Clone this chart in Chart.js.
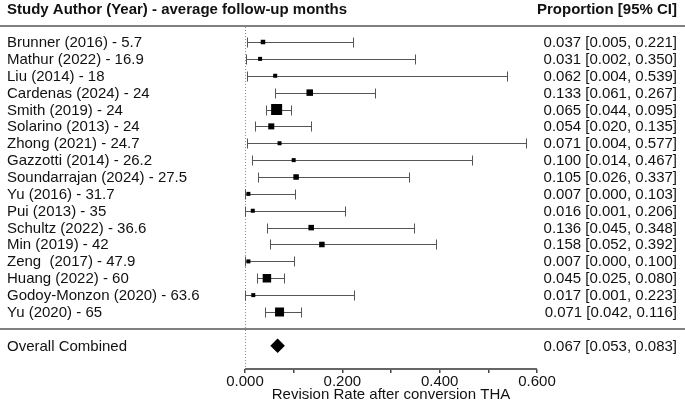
<!DOCTYPE html>
<html lang="en">
<head>
<meta charset="UTF-8">
<title>Revision rate forest plot</title>
<script src="https://cdn.jsdelivr.net/npm/chart.js@4.4.0/dist/chart.umd.min.js"></script>
<style>
  html, body { margin: 0; padding: 0; background: #fff; }
</style>
</head>
<body>
<canvas id="chart" width="685" height="402"></canvas>

<script>
    const studies = [
        'Brunner (2016) - 5.7', 'Mathur (2022) - 16.9', 'Liu (2014) - 18', 'Cardenas (2024) - 24',
        'Smith (2019) - 24', 'Solarino (2013) - 24', 'Zhong (2021) - 24.7', 'Gazzotti (2014) - 26.2',
        'Soundarrajan (2024) - 27.5', 'Yu (2016) - 31.7', 'Pui (2013) - 35', 'Schultz (2022) - 36.6',
        'Min (2019) - 42', 'Zeng  (2017) - 47.9', 'Huang (2022) - 60', 'Godoy-Monzon (2020) - 63.6',
        'Yu (2020) - 65'
    ];
    const props = [0.037, 0.031, 0.062, 0.133, 0.065, 0.054, 0.071, 0.100, 0.105, 0.007, 0.016, 0.136, 0.158, 0.007, 0.045, 0.017, 0.071];
    const lower = [0.005, 0.002, 0.004, 0.061, 0.044, 0.020, 0.004, 0.014, 0.026, 0.000, 0.001, 0.045, 0.052, 0.000, 0.025, 0.001, 0.042];
    const upper = [0.221, 0.350, 0.539, 0.267, 0.095, 0.135, 0.577, 0.467, 0.337, 0.103, 0.206, 0.348, 0.392, 0.100, 0.080, 0.223, 0.116];
    // relative study weights (%)
    const weights = [3.4, 2.7, 2.7, 7.1, 20.4, 6.1, 2.7, 2.7, 5.1, 2.7, 2.7, 5.1, 5.1, 2.7, 12.1, 2.7, 13.6];

    const overallLabel = 'Overall Combined';
    const overall = 0.067, overallLo = 0.053, overallHi = 0.083;
    const xTicks = [0, 0.2, 0.4, 0.6];

    const FONT = "'Liberation Sans', Arial, sans-serif";
    const OVERALL_ROW = studies.length + 1;

    function ciText(p, lo, hi) {
        return p.toFixed(3) + ' [' + lo.toFixed(3) + ', ' + hi.toFixed(3) + ']';
    }

    const forestPlugin = {
        id: 'forest',
        beforeDatasetsDraw(chart) {
            const ctx = chart.ctx, xs = chart.scales.x, ys = chart.scales.y, area = chart.chartArea;
            ctx.save();
            // null line
            const x0 = Math.round(xs.getPixelForValue(0)) + 0.5;
            ctx.strokeStyle = '#8a8a8a';
            ctx.lineWidth = 1;
            ctx.setLineDash([1, 2]);
            ctx.beginPath();
            ctx.moveTo(x0, area.top);
            ctx.lineTo(x0, area.bottom);
            ctx.stroke();
            ctx.setLineDash([]);

            // confidence intervals
            ctx.strokeStyle = '#555';
            studies.forEach((s, i) => {
                const y = Math.round(ys.getPixelForValue(i)) + 0.5;
                const a = Math.round(xs.getPixelForValue(lower[i])) + 0.5;
                const b = Math.round(xs.getPixelForValue(upper[i])) + 0.5;
                ctx.beginPath();
                ctx.moveTo(a, y); ctx.lineTo(b, y);
                ctx.moveTo(a, y - 5); ctx.lineTo(a, y + 5);
                ctx.moveTo(b, y - 5); ctx.lineTo(b, y + 5);
                ctx.stroke();
            });

            // header and summary rules
            ctx.strokeStyle = '#808080';
            ctx.lineWidth = 2;
            [-0.95, studies.length].forEach(v => {
                const y = Math.round(ys.getPixelForValue(v));
                ctx.beginPath();
                ctx.moveTo(0, y);
                ctx.lineTo(chart.width, y);
                ctx.stroke();
            });
            ctx.restore();
        },
        afterDraw(chart) {
            const ctx = chart.ctx, xs = chart.scales.x, ys = chart.scales.y;
            const right = chart.width - 8;
            ctx.save();

            // x axis baseline
            ctx.strokeStyle = '#666';
            ctx.lineWidth = 2;
            ctx.beginPath();
            ctx.moveTo(xs.left, xs.top);
            ctx.lineTo(xs.right, xs.top);
            ctx.stroke();

            ctx.fillStyle = '#111';
            ctx.textBaseline = 'alphabetic';

            ctx.font = 'bold 15px ' + FONT;
            ctx.textAlign = 'left';
            ctx.fillText('Study Author (Year) - average follow-up months', 7, 14);
            ctx.textAlign = 'right';
            ctx.fillText('Proportion [95% CI]', right, 14);

            ctx.font = '15px ' + FONT;
            studies.forEach((s, i) => {
                const y = ys.getPixelForValue(i) + 5;
                ctx.textAlign = 'left';
                ctx.fillText(s, 7, y);
                ctx.textAlign = 'right';
                ctx.fillText(ciText(props[i], lower[i], upper[i]), right, y);
            });
            const yo = ys.getPixelForValue(OVERALL_ROW) + 5;
            ctx.textAlign = 'left';
            ctx.fillText(overallLabel, 7, yo);
            ctx.textAlign = 'right';
            ctx.fillText(ciText(overall, overallLo, overallHi), right, yo);
            ctx.restore();
        }
    };

    const ctx = document.getElementById('chart').getContext('2d');
    const chart = new Chart(ctx, {
        type: 'scatter',
        data: {
            datasets: [{
                label: 'Studies',
                data: props.map((p, i) => ({ x: p, y: i })),
                pointStyle: 'rect',
                pointRadius: weights.map(w => Math.sqrt(w) * 2.44 * Math.SQRT1_2),
                backgroundColor: '#000',
                borderWidth: 0
            }, {
                label: 'Overall',
                data: [{ x: overall, y: OVERALL_ROW }],
                pointStyle: 'rectRot',
                pointRadius: c => {
                    const xs = c.chart.scales.x;
                    return xs ? (xs.getPixelForValue(overallHi) - xs.getPixelForValue(overallLo)) / 2 : 7;
                },
                backgroundColor: '#000',
                borderWidth: 0
            }]
        },
        options: {
            responsive: false,
            animation: false,
            events: [],
            layout: { padding: { left: 245, right: 148, top: 27, bottom: 0 } },
            plugins: { legend: { display: false }, tooltip: { enabled: false } },
            scales: {
                x: {
                    type: 'linear',
                    min: 0,
                    max: 0.6,
                    grid: { display: true, drawOnChartArea: false, drawTicks: true, tickLength: 4, color: '#444', lineWidth: 1.5 },
                    border: { display: false },
                    ticks: {
                        stepSize: 0.1,
                        autoSkip: false,
                        maxRotation: 0,
                        padding: 1,
                        color: '#111',
                        font: { family: FONT, size: 15, lineHeight: 1 },
                        callback: v => xTicks.some(t => Math.abs(t - v) < 1e-9) ? v.toFixed(3) : ''
                    },
                    title: {
                        display: true,
                        text: 'Revision Rate after conversion THA',
                        color: '#111',
                        font: { family: FONT, size: 15, lineHeight: 1 },
                        padding: { top: 0, bottom: 0 }
                    },
                    afterFit(scale) { scale.height = 33; }
                },
                y: {
                    type: 'linear',
                    display: false,
                    reverse: true,
                    min: -0.889,
                    max: 19.378
                }
            }
        },
        plugins: [forestPlugin]
    });
</script>
</body>
</html>
